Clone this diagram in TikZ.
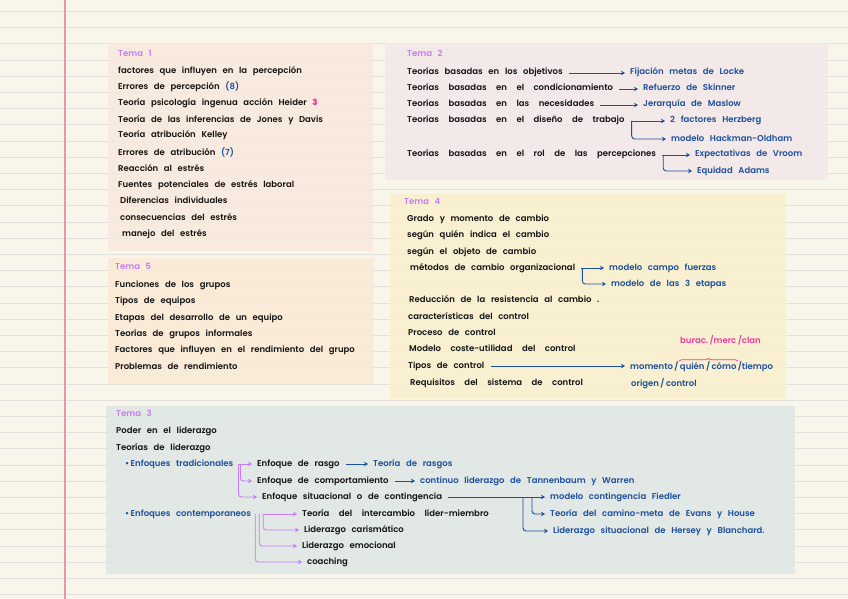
\documentclass[tikz,border=0pt]{standalone}
\usepackage{fontspec}
\setmainfont{Poppins}[UprightFont={* SemiBold},WordSpace=2.8]
\usepackage{tikz}
\usetikzlibrary{arrows.meta,positioning,decorations.pathreplacing}
\definecolor{papel}{HTML}{F8F5EA}
\definecolor{renglon}{HTML}{E1E0DA}
\definecolor{margen}{HTML}{E69AA0}
\definecolor{cajauno}{HTML}{F8E9DD}
\definecolor{cajados}{HTML}{F3E8E8}
\definecolor{cajacuatro}{HTML}{FAF0CD}
\definecolor{cajacinco}{HTML}{FAEAD6}
\definecolor{cajatres}{HTML}{DDE6E5}
\definecolor{azul}{HTML}{1E4F9C}
\definecolor{lila}{HTML}{C47EF2}
\definecolor{rosa}{HTML}{F2389B}
\definecolor{tinta}{HTML}{141414}
\newcommand\espacioancho{\spaceskip 9.5pt plus 1pt\relax}
\tikzset{
  txt/.style={anchor=west,inner sep=2pt,text height=6pt,text depth=2pt,
    text=tinta,font=\fontsize{8.5}{9}\selectfont},
  ancha/.style={txt,font=\fontsize{8.5}{9}\selectfont\espacioancho},
  azultxt/.style={txt,text=azul},
  tema/.style={txt,text=lila},
  flecha/.style={-{Stealth[length=4pt,width=4.5pt]},azul,line width=0.9pt,
    rounded corners=3pt,shorten <=4pt,shorten >=3pt},
  flechab/.style={flecha,shorten <=0pt},
  flechalila/.style={flecha,lila},
  flechalilab/.style={flechab,lila}
}
\begin{document}
\begin{tikzpicture}[x=1pt,y=-1pt]
\fill[papel] (0,0) rectangle (848,599);
\useasboundingbox (0,0) rectangle (848,599);
% hoja rayada
\foreach \k in {0,...,36}
  \draw[renglon,line width=0.8pt] (0,{11.4+16.2*\k}) -- (848,{11.4+16.2*\k});
\draw[margen,line width=1.2pt] (65,0) -- (65,599);
% cajas
\fill[cajauno,fill opacity=0.85] (108,43) rectangle (373,251);
\fill[cajados,fill opacity=0.85] (385,43) rectangle (828,180);
\fill[cajacuatro,fill opacity=0.85] (390,194) rectangle (786,399);
\fill[cajacinco,fill opacity=0.85] (108,258) rectangle (374,384);
\fill[cajatres,fill opacity=0.85] (106,406) rectangle (795,574);

% Tema 1
\node[tema] (t1) at (116,55) {Tema 1};
\node[txt] (t1a) at (116,72) {factores que influyen en la percepción};
\node[txt] (t1b) at (116,88) {Errores de percepción \textcolor{azul}{(8)}};
\node[txt] (t1c) at (116,104) {Teoría psicología ingenua acción Heider \textcolor{rosa}{\bfseries 3}};
\node[txt] (t1d) at (116,120) {Teoría de las inferencias de Jones y Davis};
\node[txt] (t1e) at (116,136) {Teoría atribución Kelley};
\node[txt] (t1f) at (116,153) {Errores de atribución \textcolor{azul}{(7)}};
\node[txt] (t1g) at (116,169) {Reacción al estrés};
\node[txt] (t1h) at (116,185) {Fuentes potenciales de estrés laboral};
\node[txt] (t1i) at (118,201) {Diferencias individuales};
\node[txt] (t1j) at (118,218) {consecuencias del estrés};
\node[txt] (t1k) at (120,234) {manejo del estrés};

% Tema 2
\node[tema] (t2) at (405,55) {Tema 2};
\node[txt] (t2a) at (405,73) {Teorías basadas en los objetivos};
\node[azultxt] (t2a1) at (628,73) {Fijación metas de Locke};
\node[ancha] (t2b) at (405,89) {Teorías basadas en el condicionamiento};
\node[azultxt] (t2b1) at (641,89) {Refuerzo de Skinner};
\node[ancha] (t2c) at (405,105) {Teorías basadas en las necesidades};
\node[azultxt] (t2c1) at (641,105) {Jerarquía de Maslow};
\node[ancha] (t2d) at (405,121) {Teorías basadas en el diseño de trabajo};
\node[azultxt] (t2d1) at (668,121) {2 factores Herzberg};
\node[azultxt] (t2d2) at (669,139) {modelo Hackman-Oldham};
\node[ancha] (t2e) at (405,155) {Teorías basadas en el rol de las percepciones};
\node[azultxt] (t2e1) at (693,155) {Expectativas de Vroom};
\node[azultxt] (t2e2) at (695,171) {Equidad Adams};
\draw[flecha] (t2a) -- (t2a1);
\draw[flecha] (t2b) -- (t2b1);
\draw[flecha] (t2c) -- (t2c1);
\draw[flecha] (t2d) -- (t2d1);
\draw[flechab] ([xshift=5pt]t2d.east) |- (t2d2);
\draw[flecha] (t2e) -- (t2e1);
\draw[flechab] ([xshift=5pt]t2e.east) |- (t2e2);

% Tema 4
\node[tema] (t4) at (402,202) {Tema 4};
\node[txt] (t4a) at (405,219) {Grado y momento de cambio};
\node[txt] (t4b) at (405,235) {según quién indica el cambio};
\node[txt] (t4c) at (405,252) {según el objeto de cambio};
\node[txt] (t4d) at (408,268) {métodos de cambio organizacional};
\node[azultxt] (t4d1) at (607,268) {modelo campo fuerzas};
\node[azultxt] (t4d2) at (609,284) {modelo de las 3 etapas};
\node[txt] (t4e) at (407,300) {Reducción de la resistencia al cambio .};
\node[txt] (t4f) at (406,317) {características del control};
\node[txt] (t4g) at (406,333) {Proceso de control};
\node[ancha] (t4h) at (407,349) {Modelo coste-utilidad del control};
\node[txt] (t4i) at (406,366) {Tipos de control};
\node[azultxt] (t4i1) at (628,367) {momento\,/\,quién\,/\,cómo\,/tiempo};
\node[ancha] (t4j) at (408,383) {Requisitos del sistema de control};
\node[azultxt] (t4j1) at (629,384) {origen\,/\,control};
\node[txt,text=rosa] (t4k) at (678,341) {burac.\,/merc\,/clan};
\draw[flecha] (t4d) -- (t4d1);
\draw[flechab] ([xshift=5pt]t4d.east) |- (t4d2);
\draw[flecha] (t4i.east) -- (t4i1.west |- t4i.east);
\draw[rosa,line width=0.7pt,decorate,decoration={brace,amplitude=2.5pt}]
  (679,361) -- (738,361);

% Tema 5
\node[tema] (t5) at (113,267) {Tema 5};
\node[txt] (t5a) at (113,285) {Funciones de los grupos};
\node[txt] (t5b) at (113,301) {Tipos de equipos};
\node[txt] (t5c) at (113,318) {Etapas del desarrollo de un equipo};
\node[txt] (t5d) at (113,334) {Teorías de grupos informales};
\node[txt] (t5e) at (113,350) {Factores que influyen en el rendimiento del grupo};
\node[txt] (t5f) at (113,367) {Problemas de rendimiento};

% Tema 3
\node[tema] (t3) at (114,414) {Tema 3};
\node[txt] (t3a) at (114,431) {Poder en el liderazgo};
\node[txt] (t3b) at (114,448) {Teorías de liderazgo};
\node[azultxt] (t3c) at (123,464) {\textbullet\,Enfoques tradicionales};
\node[txt] (t3c1) at (255,464) {Enfoque de rasgo};
\node[azultxt] (t3c1a) at (371,464) {Teoría de rasgos};
\node[txt] (t3c2) at (255,481) {Enfoque de comportamiento};
\node[azultxt] (t3c2a) at (418,481) {continuo liderazgo de Tannenbaum y Warren};
\node[txt] (t3c3) at (260,497) {Enfoque situacional o de contingencia};
\node[azultxt] (t3c3a) at (548,497) {modelo contingencia Fiedler};
\node[azultxt] (t3c3b) at (548,514) {Teoría del camino-meta de Evans y House};
\node[azultxt] (t3c3c) at (551,531) {Liderazgo situacional de Hersey y Blanchard.};
\node[azultxt] (t3d) at (123,514) {\textbullet\,Enfoques contemporaneos};
\node[ancha] (t3d1) at (300,514) {Teoría del intercambio líder-miembro};
\node[txt] (t3d2) at (302,530) {Liderazgo carismático};
\node[txt] (t3d3) at (300,546) {Liderazgo emocional};
\node[txt] (t3d4) at (305,562) {coaching};
\draw[flechalila] (t3c) -- (t3c1);
\draw[flechalilab] ([xshift=5pt]t3c.east) |- (t3c2);
\draw[flechalilab] ([xshift=3pt]t3c.east) |- (t3c3);
\draw[flecha] (t3c1) -- (t3c1a);
\draw[flecha] (t3c2) -- (t3c2a);
\draw[flecha] (t3c3) -- (t3c3a);
\draw[flechab] ([xshift=-16pt]t3c3a.west) |- (t3c3b);
\draw[flechab] ([xshift=-25pt]t3c3a.west) |- (t3c3c);
\draw[flechalila,shorten <=10pt] (t3d) -- (t3d1);
\draw[flechalilab] ([xshift=10pt]t3d.east) |- (t3d2);
\draw[flechalilab] ([xshift=6pt]t3d.east) |- (t3d3);
\draw[flechalilab] ([xshift=2pt]t3d.east) |- (t3d4);
\end{tikzpicture}
\end{document}
